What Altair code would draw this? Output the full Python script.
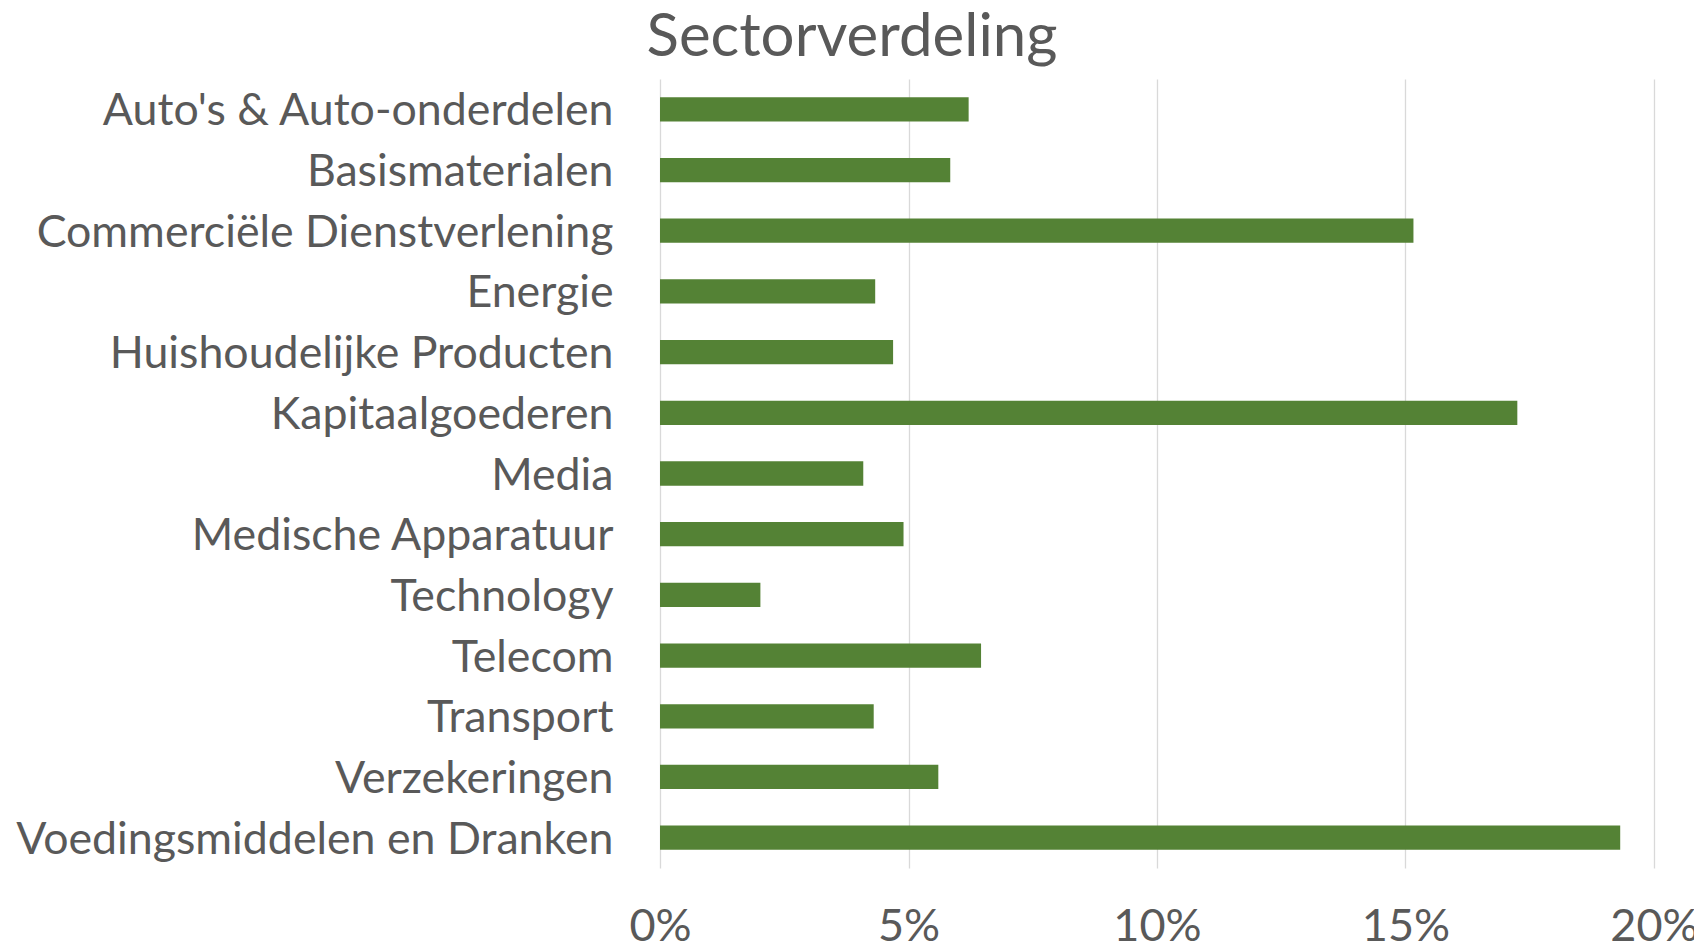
import altair as alt
import pandas as pd

sectors = [
    "Auto's & Auto-onderdelen",
    "Basismaterialen",
    "Commerciële Dienstverlening",
    "Energie",
    "Huishoudelijke Producten",
    "Kapitaalgoederen",
    "Media",
    "Medische Apparatuur",
    "Technology",
    "Telecom",
    "Transport",
    "Verzekeringen",
    "Voedingsmiddelen en Dranken",
]
weights = [6.21, 5.84, 15.16, 4.33, 4.69, 17.25, 4.09, 4.90, 2.02, 6.46, 4.30, 5.60, 19.32]
x_ticks = [0, 0.05, 0.10, 0.15, 0.20]

df = pd.DataFrame({"sector": sectors, "weight": [w / 100 for w in weights]})

FONT = "Lato"
TXT = "#595959"

chart = (
    alt.Chart(df)
    .mark_bar(color="#548235")
    .encode(
        y=alt.Y(
            "sector:N",
            sort=sectors,
            title=None,
            scale=alt.Scale(paddingInner=0.6, paddingOuter=0.3),
            axis=alt.Axis(
                ticks=False,
                domain=False,
                grid=False,
                labelFont=FONT,
                labelFontSize=44.7,
                labelColor=TXT,
                labelPadding=47,
                labelOffset=3,
                labelLimit=1000,
            ),
        ),
        x=alt.X(
            "weight:Q",
            title=None,
            scale=alt.Scale(domain=[0, 0.2], nice=False),
            axis=alt.Axis(
                values=x_ticks,
                format=".0%",
                ticks=False,
                domain=False,
                grid=True,
                gridColor="#d9d9d9",
                gridWidth=1.3,
                labelFont=FONT,
                labelFontSize=45,
                labelColor=TXT,
                labelPadding=36,
                labelFlush=False,
            ),
        ),
    )
    .properties(
        width=994,
        height=789,
        title=alt.TitleParams(
            "Sectorverdeling",
            font=FONT,
            fontSize=60,
            fontWeight="normal",
            color=TXT,
            anchor="middle",
            dx=-305,
            offset=10,
        ),
        autosize=alt.AutoSizeParams(type="none"),
        padding={"left": 652, "top": 71, "right": 40, "bottom": 74},
    )
    .configure_view(stroke=None)
)

chart.save("out.html", embed_options={"renderer": "svg", "actions": False})
